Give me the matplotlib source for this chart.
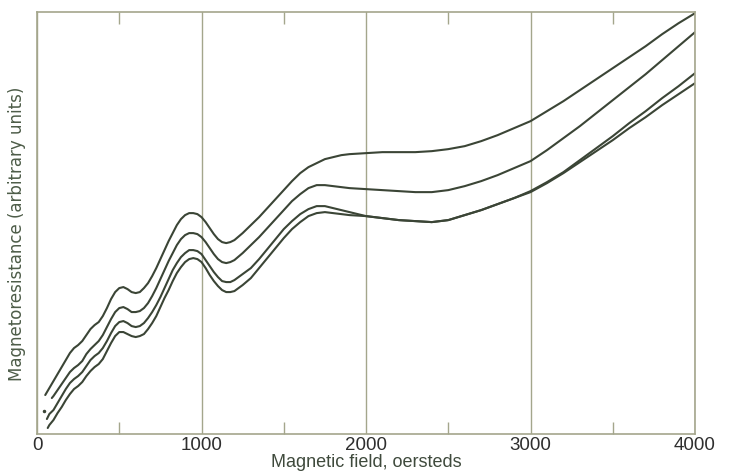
import matplotlib
matplotlib.use("Agg")
import matplotlib.pyplot as plt
from matplotlib.ticker import MultipleLocator

# magnetic field grid (oersteds), shared by all four traces
field = (list(range(100, 1201, 25)) + list(range(1250, 1901, 50))
         + list(range(2000, 4001, 100)))

# first points of each trace (they start at slightly different fields)
head_field = [[50, 75], [90], [60, 75], [65, 75]]
head_value = [[39, 46], [36], [15, 20], [6, 9]]

# magnetoresistance, arbitrary units
trace_1 = [53, 60, 67, 74, 81, 86, 89, 93, 99, 105, 109, 112, 118, 126, 135,
           142, 146, 147, 145, 142, 141, 142, 146, 151, 158, 166, 175, 184,
           193, 201, 209, 215, 219, 221, 221, 220, 217, 212, 206, 200, 195,
           192, 191, 192, 194,
           201, 209, 217, 226, 235, 244, 253, 261, 267, 271, 275, 277, 279, 280,
           281, 282, 282, 282, 283, 285, 288, 293, 299, 306, 313, 323, 333,
           344, 355, 366, 377, 388, 400, 411, 421]
trace_2 = [38, 44, 50, 56, 62, 66, 69, 73, 80, 85, 89, 93, 99, 107, 115,
           122, 126, 127, 125, 122, 122, 123, 126, 131, 138, 146, 155, 164,
           173, 181, 189, 195, 199, 201, 201, 200, 197, 192, 186, 180, 175,
           172, 171, 172, 174,
           181, 189, 197, 206, 215, 224, 233, 240, 246, 249, 249, 248, 247, 246,
           245, 244, 243, 242, 242, 244, 248, 253, 259, 266, 273, 284, 296,
           308, 321, 334, 347, 360, 374, 388, 402]
trace_3 = [24, 31, 38, 45, 51, 55, 58, 62, 68, 74, 78, 81, 86, 93, 101,
           108, 112, 113, 111, 108, 107, 108, 111, 116, 122, 129, 137, 146,
           155, 164, 171, 177, 181, 184, 184, 183, 180, 174, 168, 162, 157,
           153, 152, 152, 154,
           160, 166, 175, 185, 195, 205, 213, 220, 225, 228, 228, 226, 224, 222,
           218, 216, 214, 213, 212, 214, 219, 224, 230, 236, 243, 252, 262,
           274, 286, 298, 311, 323, 336, 348, 361]
trace_4 = [14, 21, 27, 34, 40, 45, 48, 52, 58, 63, 67, 70, 75, 83, 91,
           98, 102, 102, 100, 98, 97, 98, 100, 105, 111, 118, 127, 136,
           144, 153, 161, 167, 172, 175, 176, 175, 172, 166, 159, 153, 148,
           144, 142, 142, 143,
           149, 156, 166, 176, 186, 196, 205, 212, 218, 221, 222, 221, 220, 219,
           218, 216, 214, 213, 212, 214, 219, 224, 230, 236, 242, 251, 261,
           272, 283, 294, 306, 317, 329, 340, 351]
traces = [trace_1, trace_2, trace_3, trace_4]

# stray ink dot near the origin on the printed page
dot_field = [45]
dot_value = [23]

x_ticks = [0, 1000, 2000, 3000, 4000]

line_color = "#3b4536"
frame_color = "#a4a68c"
label_color = "#4d5c48"
narrow = ["Liberation Sans", "DejaVu Sans"]

fig = plt.figure(figsize=(7.36, 4.75), dpi=100)
ax = fig.add_axes([0.0503, 0.0863, 0.894, 0.888])

for hf, hv, tr in zip(head_field, head_value, traces):
    ax.plot(hf + field, hv + tr, color=line_color, lw=1.5,
            solid_joinstyle="round", solid_capstyle="round")

ax.plot(dot_field, dot_value, ".", color=line_color, ms=3)

ax.set_xlim(0, 4000)
ax.set_ylim(0, 422)
ax.set_xticks(x_ticks)
ax.set_xticklabels([str(t) for t in x_ticks], family=narrow, fontsize=13.5)
ax.xaxis.set_minor_locator(MultipleLocator(500))
ax.set_yticks([])

ax.tick_params(axis="x", which="major", length=0, pad=2,
               labelcolor="#2e2e2e")
ax.tick_params(axis="x", which="minor", direction="in", length=8.5,
               width=1, color=frame_color, top=True)

ax.grid(axis="x", which="major", color=frame_color, lw=1)
for sp in ax.spines.values():
    sp.set_color(frame_color)
    sp.set_linewidth(1.2)

ax.set_xlabel("Magnetic field, oersteds", fontsize=13, color="#3f4a3c",
              labelpad=0, family=narrow)
ax.set_ylabel("Magnetoresistance (arbitrary units)", fontsize=12,
              color=label_color)
ax.yaxis.set_label_coords(-0.016, 0.474)

fig.savefig("out.png", dpi=100)
